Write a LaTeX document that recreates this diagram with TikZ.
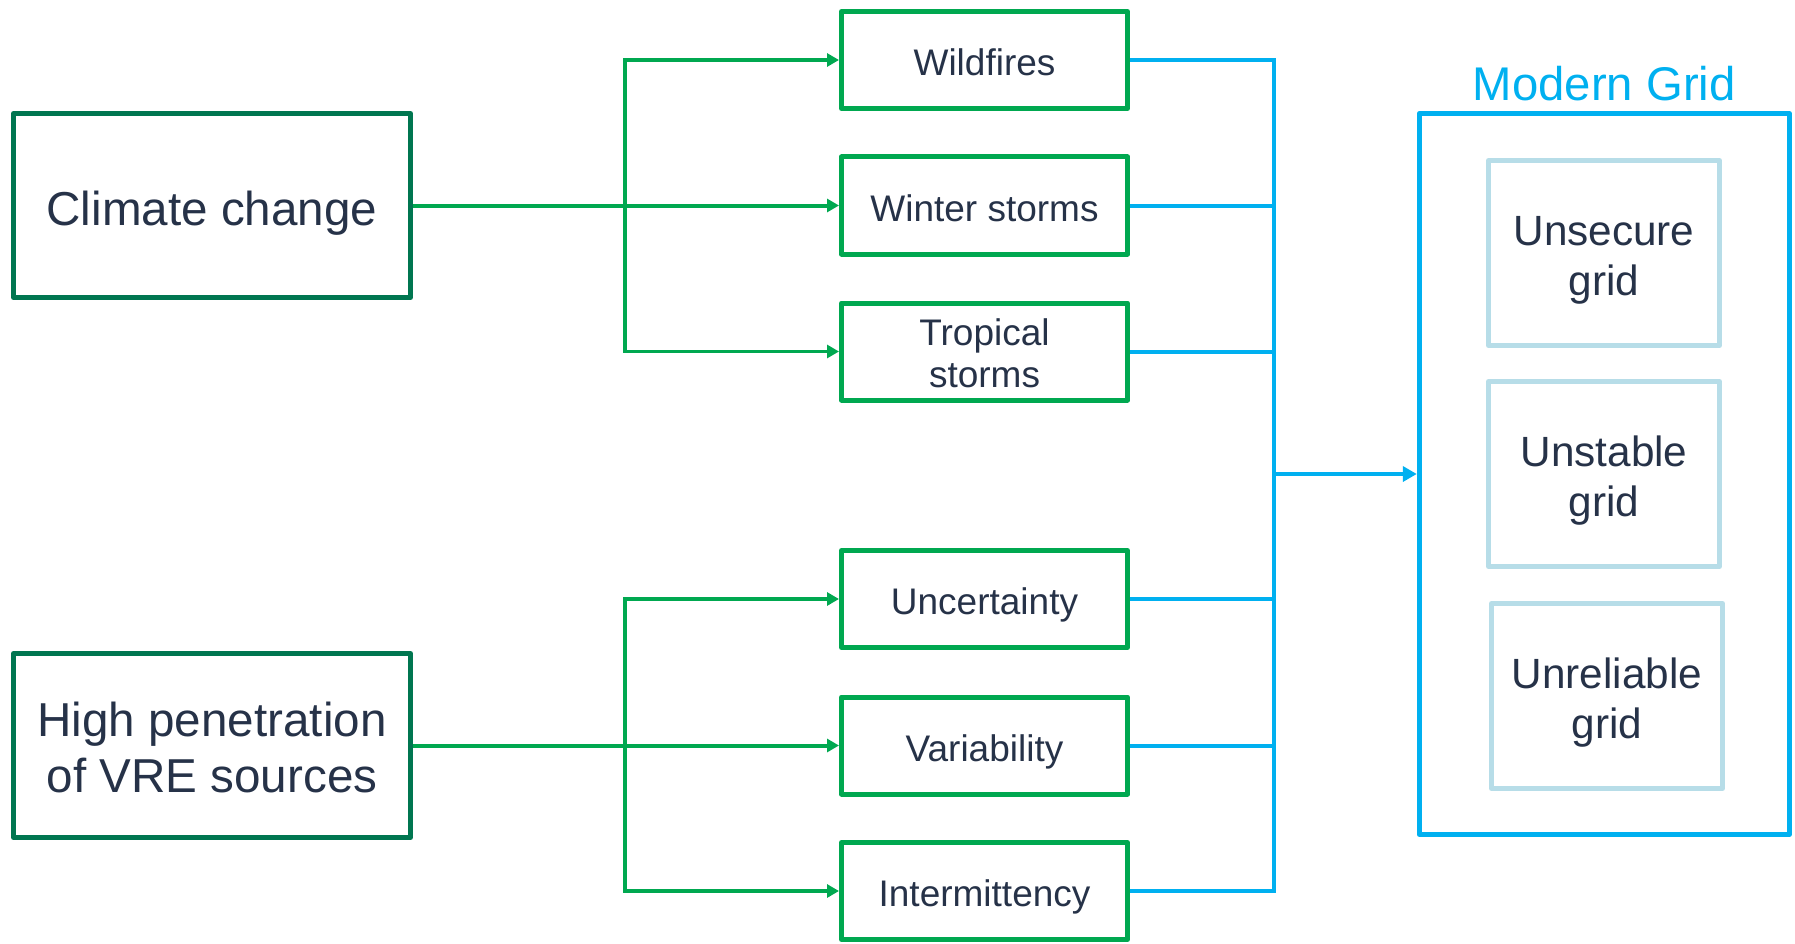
\documentclass[tikz,border=0pt]{standalone}
\usepackage{fontspec}
\setmainfont{Liberation Sans}
\usetikzlibrary{arrows.meta}
\definecolor{txt}{RGB}{38,50,72}
\definecolor{darkgreen}{RGB}{0,118,80}
\definecolor{brightgreen}{RGB}{0,168,80}
\definecolor{skyblue}{RGB}{0,176,240}
\definecolor{paleblue}{RGB}{183,221,232}
\tikzset{
  boxline/.style={line width=5pt, line join=round, inner sep=0pt},
  causebox/.style={boxline, draw=darkgreen, minimum width=397pt, minimum height=184pt},
  causetext/.style={text=txt, font=\fontsize{47.6}{56}\selectfont, align=center, inner sep=0pt},
  effectbox/.style={boxline, draw=brightgreen, minimum width=286pt, minimum height=97pt,
    text=txt, font=\fontsize{37}{42}\selectfont, text height=37pt, text depth=6pt},
  effecttext/.style={text=txt, font=\fontsize{37}{42}\selectfont, align=center, inner sep=0pt},
  gridbox/.style={boxline, draw=paleblue, minimum width=231pt, minimum height=185pt},
  gridtext/.style={text=txt, font=\fontsize{42.3}{50}\selectfont, align=center, inner sep=0pt},
  tip/.style={-{Triangle[length=12pt,width=13pt]}},
  trunk/.style={draw=brightgreen, line width=4pt, tip},
  branch/.style={draw=brightgreen, line width=3.5pt, tip},
  feed/.style={draw=skyblue, line width=4pt},
}
\begin{document}
\begin{tikzpicture}[x=1pt, y=-1pt]
\useasboundingbox (0,0) rectangle (1795,944);

% causes
\node[causebox] (cc) at (212,205.5) {};
\node[causetext, text height=47.6pt, text depth=7.6pt] (cct) at (212,205.5) {Climate change};
\node[causebox] (vre) at (212,745.5) {};
\node[causetext] (vret) at (212,747.5) {High penetration\\of VRE sources};

% effects
\node[effectbox] (wf) at (984.5,60) {Wildfires};
\node[effectbox] (ws) at (984.5,205.5) {Winter storms};
\node[effectbox] (ts) at (984.5,351.5) {};
\node[effecttext] (tst) at (984.5,353.5) {Tropical\\storms};
\node[effectbox] (un) at (984.5,599) {Uncertainty};
\node[effectbox] (va) at (984.5,745.5) {Variability};
\node[effectbox] (im) at (984.5,891) {Intermittency};

% modern grid container
\node[boxline, draw=skyblue, minimum width=370pt, minimum height=721pt]
  (mg) at (1604.3,474) {};
\node[text=skyblue, font=\fontsize{47.3}{56}\selectfont, anchor=south, inner sep=0pt]
  (mgt) at ([yshift=10pt]mg.north) {Modern Grid};
\node[gridbox] (g1) at (1604,253) {};
\node[gridtext] (g1t) at (1604,260) {Unsecure\\grid};
\node[gridbox] (g2) at (1604,474) {};
\node[gridtext] (g2t) at (1604,481) {Unstable\\grid};
\node[gridbox] (g3) at (1607,696) {};
\node[gridtext] (g3t) at (1607,703) {Unreliable\\grid};

% green splits
\coordinate (s1) at (625,205.5);
\coordinate (s2) at (625,745.5);
\draw[trunk] (cc.east) -- (ws.west);
\draw[branch] (s1) |- (wf.west);
\draw[branch] (s1) |- (ts.west);
\draw[trunk] (vre.east) -- (va.west);
\draw[branch] (s2) |- (un.west);
\draw[branch] (s2) |- (im.west);

% blue bus into the grid
\coordinate (bt) at (1274,60);
\coordinate (bb) at (1274,891);
\coordinate (bm) at (1274,474);
\draw[feed, line cap=rect] (bt) -- (bb);
\foreach \n in {wf,ws,ts,un,va,im} \draw[feed] (\n.east) -- (\n.east -| bm);
\draw[feed, -{Triangle[length=14pt,width=15pt]}] (bm) -- (mg.west);
\end{tikzpicture}
\end{document}
